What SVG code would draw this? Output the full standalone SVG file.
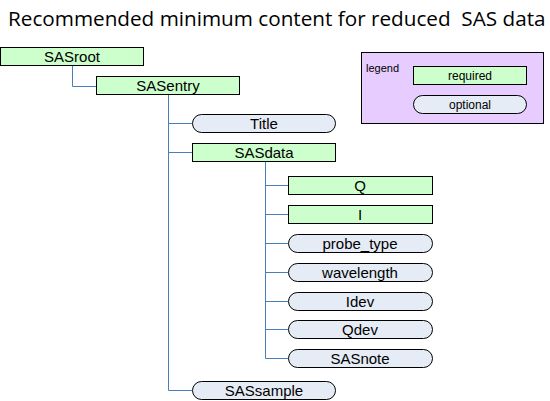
<svg xmlns="http://www.w3.org/2000/svg" width="550" height="401" viewBox="0 0 550 401">
<style>
.req{fill:#CCFFCC;stroke:#000;stroke-width:1}
.opt{fill:#E6ECF6;stroke:#000;stroke-width:1}
.lbl{font-family:"Liberation Sans",Arial,sans-serif;font-size:15px;fill:#000;text-anchor:middle}
.sm{font-size:12px}
.con{fill:none;stroke:#4A7EBB;stroke-width:1}
</style>
<rect width="550" height="401" fill="#fff"/>
<text x="8" y="26" font-family="'Open Sans','Noto Sans',sans-serif" font-size="20.7" fill="#000" xml:space="preserve">Recommended minimum content for reduced  SAS data</text>
<g id="connectors">
<path class="con" d="M72.5,66 V86.5 H96"/>
<path class="con" d="M168.5,95 V390.5 H192 M168.5,123.5 H192 M168.5,152.5 H192"/>
<path class="con" d="M265.5,162 V358.5 H288 M265.5,185.5 H288 M265.5,214.5 H288 M265.5,243.5 H288 M265.5,272.5 H288 M265.5,301.5 H288 M265.5,329.5 H288"/>
</g>
<g id="legend">
<rect x="361.5" y="52.5" width="182" height="71" fill="#E6CCFF" stroke="#000"/>
<text x="366" y="72" font-family="'Liberation Sans',Arial,sans-serif" font-size="11">legend</text>
<rect class="req" x="413.5" y="66.5" width="113" height="18"/>
<text class="lbl sm" x="470" y="80">required</text>
<rect class="opt" x="413.5" y="95.5" width="113" height="18" rx="9"/>
<text class="lbl sm" x="470" y="109">optional</text>
</g>
<g id="SASroot"><rect class="req" x="0.5" y="47.5" width="143" height="18"/><text class="lbl" x="72" y="62">SASroot</text></g>
<g id="SASentry"><rect class="req" x="96.5" y="76.5" width="143" height="18"/><text class="lbl" x="168" y="91">SASentry</text></g>
<g id="Title"><rect class="opt" x="192.5" y="114.5" width="143" height="18" rx="9"/><text class="lbl" x="264" y="129">Title</text></g>
<g id="SASdata"><rect class="req" x="192.5" y="143.5" width="143" height="18"/><text class="lbl" x="264" y="158">SASdata</text></g>
<g id="Q"><rect class="req" x="288.5" y="176.5" width="144" height="18"/><text class="lbl" x="360" y="191">Q</text></g>
<g id="I"><rect class="req" x="288.5" y="205.5" width="144" height="18"/><text class="lbl" x="360" y="220">I</text></g>
<g id="probe_type"><rect class="opt" x="288.5" y="234.5" width="144" height="18" rx="9"/><text class="lbl" x="360" y="249">probe_type</text></g>
<g id="wavelength"><rect class="opt" x="288.5" y="263.5" width="144" height="18" rx="9"/><text class="lbl" x="360" y="278">wavelength</text></g>
<g id="Idev"><rect class="opt" x="288.5" y="292.5" width="144" height="18" rx="9"/><text class="lbl" x="360" y="307">Idev</text></g>
<g id="Qdev"><rect class="opt" x="288.5" y="320.5" width="144" height="18" rx="9"/><text class="lbl" x="360" y="335">Qdev</text></g>
<g id="SASnote"><rect class="opt" x="288.5" y="349.5" width="144" height="18" rx="9"/><text class="lbl" x="360" y="364">SASnote</text></g>
<g id="SASsample"><rect class="opt" x="192.5" y="381.5" width="143" height="18" rx="9"/><text class="lbl" x="264" y="396">SASsample</text></g>
</svg>
